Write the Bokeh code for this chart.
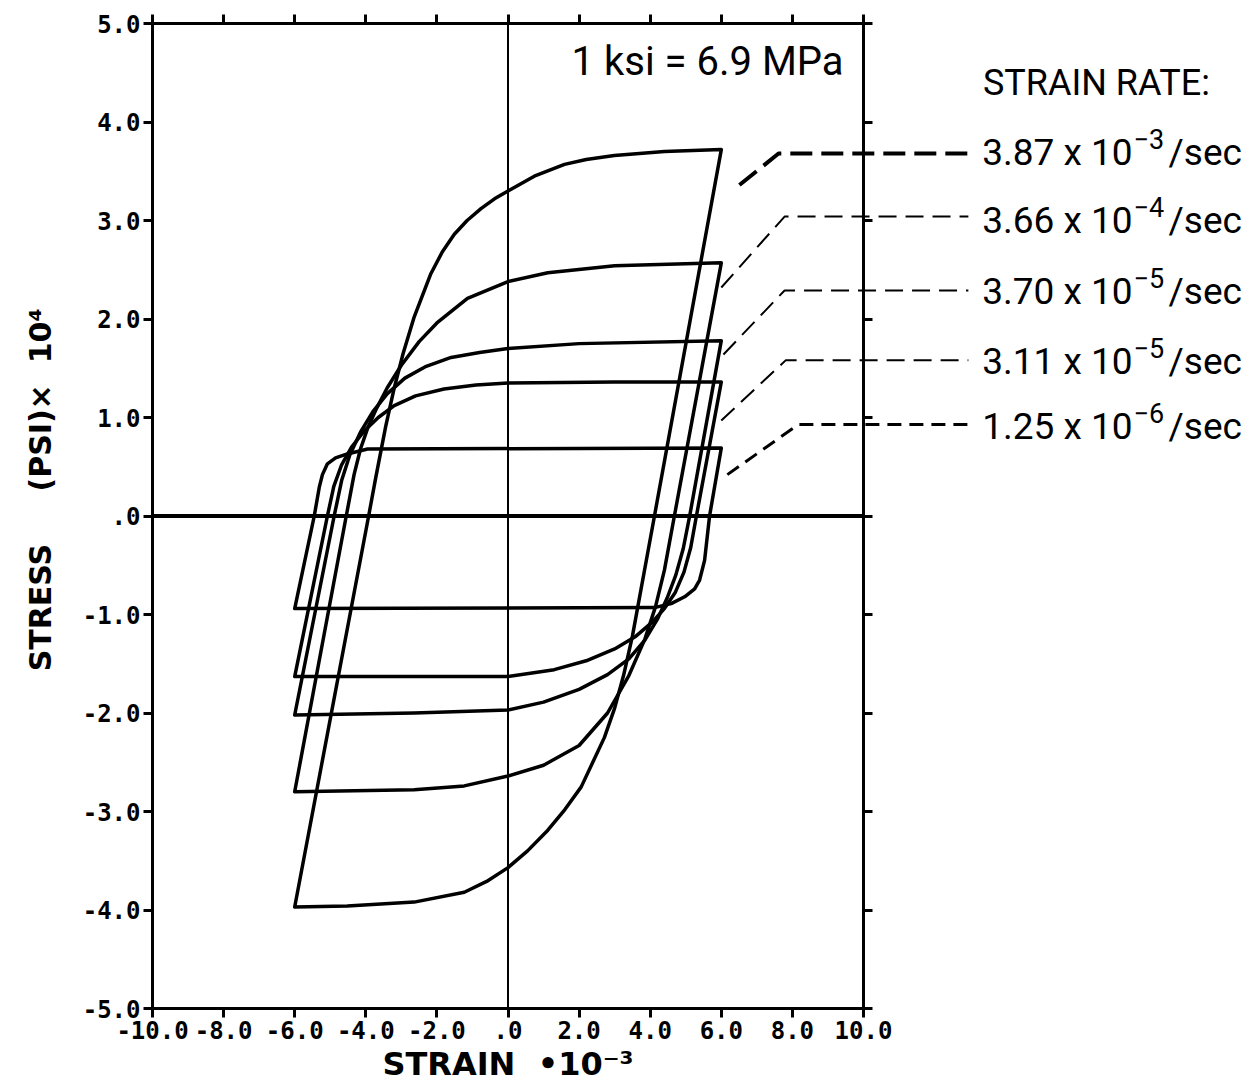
from bokeh.plotting import figure
from bokeh.layouts import row
from bokeh.models import Range1d, FixedTicker, LinearAxis, Span, Label
from bokeh.embed import file_html
from bokeh.resources import INLINE

NB = "\u00a0"

# ---------------- data (strain x10^-3, stress psi x10^4) ----------------
x_ticks = [-10, -8, -6, -4, -2, 0, 2, 4, 6, 8, 10]
x_tick_labels = ["-10.0", "-8.0", "-6.0", "-4.0", "-2.0", ".0", "2.0", "4.0", "6.0", "8.0", "10.0"]
y_ticks = [-5, -4, -3, -2, -1, 0, 1, 2, 3, 4, 5]
y_tick_labels = ["-5.0", "-4.0", "-3.0", "-2.0", "-1.0", ".0", "1.0", "2.0", "3.0", "4.0", "5.0"]

rates = ["3.87 x 10", "3.66 x 10", "3.70 x 10", "3.11 x 10", "1.25 x 10"]
rate_exp = ["\u22123", "\u22124", "\u22125", "\u22125", "\u22126"]

# loop A : 3.87e-3 /sec
a_up_x = [-6.0, -3.92, -3.72, -3.44, -3.20, -2.95, -2.64, -2.17, -1.85, -1.51, -1.15, -0.76, -0.38, 0.0, 0.74, 1.59, 2.20, 2.99, 4.40, 6.0]
a_up_y = [-3.97, 0.0, 0.39, 0.91, 1.30, 1.65, 2.02, 2.46, 2.68, 2.86, 3.00, 3.12, 3.22, 3.30, 3.45, 3.57, 3.62, 3.66, 3.70, 3.72]
a_dn_x = [6.0, 4.12, 3.50, 3.25, 3.00, 2.71, 2.06, 1.60, 1.12, 0.55, 0.0, -0.60, -1.23, -2.64, -4.52, -6.0]
a_dn_y = [3.72, 0.0, -1.22, -1.62, -1.95, -2.25, -2.75, -2.98, -3.19, -3.40, -3.57, -3.71, -3.82, -3.92, -3.96, -3.97]

# loop B : 3.66e-4 /sec
b_up_x = [-6.0, -4.55, -4.33, -4.15, -3.95, -3.70, -3.40, -3.00, -2.50, -2.00, -1.14, 0.0, 1.12, 3.0, 6.0]
b_up_y = [-2.80, 0.0, 0.42, 0.68, 0.89, 1.09, 1.30, 1.53, 1.77, 1.96, 2.21, 2.38, 2.47, 2.54, 2.57]
b_dn_x = [6.0, 4.68, 4.40, 4.15, 3.85, 3.40, 2.80, 2.00, 1.00, 0.0, -1.23, -2.64, -6.0]
b_dn_y = [2.57, 0.0, -0.55, -0.92, -1.25, -1.62, -2.00, -2.33, -2.53, -2.64, -2.74, -2.78, -2.80]

# loop C : 3.70e-5 /sec
c_up_x = [-6.0, -4.89, -4.68, -4.45, -4.15, -3.80, -3.40, -2.90, -2.30, -1.60, -0.80, 0.0, 2.0, 6.0]
c_up_y = [-2.02, 0.0, 0.36, 0.62, 0.85, 1.06, 1.24, 1.40, 1.52, 1.61, 1.66, 1.70, 1.75, 1.78]
c_dn_x = [6.0, 5.11, 4.93, 4.72, 4.48, 4.20, 3.85, 3.40, 2.80, 2.00, 1.00, 0.0, -2.64, -6.0]
c_dn_y = [1.78, 0.0, -0.33, -0.60, -0.83, -1.05, -1.26, -1.45, -1.61, -1.76, -1.89, -1.97, -2.00, -2.02]

# loop D : 3.11e-5 /sec
d_up_x = [-6.0, -5.08, -4.90, -4.68, -4.40, -4.05, -3.65, -3.20, -2.60, -1.80, -0.90, 0.0, 3.0, 6.0]
d_up_y = [-1.63, 0.0, 0.30, 0.52, 0.70, 0.86, 1.00, 1.12, 1.22, 1.29, 1.33, 1.35, 1.36, 1.36]
d_dn_x = [6.0, 5.30, 5.14, 4.95, 4.70, 4.40, 4.05, 3.60, 3.00, 2.20, 1.30, 0.0, -6.0]
d_dn_y = [1.36, 0.0, -0.32, -0.57, -0.78, -0.94, -1.08, -1.22, -1.35, -1.47, -1.56, -1.63, -1.63]

# loop E : 1.25e-6 /sec
e_up_x = [-6.0, -5.45, -5.31, -5.22, -5.08, -4.85, -4.52, -3.95, 6.0]
e_up_y = [-0.94, 0.0, 0.29, 0.42, 0.53, 0.59, 0.63, 0.68, 0.69]
e_dn_x = [6.0, 5.67, 5.53, 5.39, 5.25, 4.97, 4.59, 4.12, -6.0]
e_dn_y = [0.69, 0.0, -0.45, -0.65, -0.74, -0.82, -0.89, -0.93, -0.94]

loops = [
    (a_up_x, a_up_y, a_dn_x, a_dn_y),
    (b_up_x, b_up_y, b_dn_x, b_dn_y),
    (c_up_x, c_up_y, c_dn_x, c_dn_y),
    (d_up_x, d_up_y, d_dn_x, d_dn_y),
    (e_up_x, e_up_y, e_dn_x, e_dn_y),
]

# ---------------- layout constants ----------------
FRAME_W, FRAME_H = 711, 985
LEFT, RIGHT_B, TOP, BOTTOM = 152, 34, 23, 81
TOTAL_W = 1251
PX_PER_UNIT = FRAME_W / 20.0
SIDE_W = TOTAL_W - LEFT - FRAME_W      # side panel starts exactly at the right border

# ---------------- main figure ----------------
p = figure(frame_width=FRAME_W, frame_height=FRAME_H,
           x_range=Range1d(-10, 10), y_range=Range1d(-5, 5),
           output_backend="svg", toolbar_location=None,
           min_border_left=LEFT, min_border_right=RIGHT_B,
           min_border_top=TOP, min_border_bottom=BOTTOM)
p.grid.visible = False
p.outline_line_color = None
p.background_fill_color = "white"
p.border_fill_color = "white"

top_ax = LinearAxis()
right_ax = LinearAxis()
p.add_layout(top_ax, "above")
p.add_layout(right_ax, "right")

def style_axis(ax, ticks, labels, show_labels):
    ax.ticker = FixedTicker(ticks=ticks)
    ax.axis_line_width = 3
    ax.axis_line_color = "black"
    ax.major_tick_line_width = 3
    ax.major_tick_line_color = "black"
    ax.major_tick_in = 0
    ax.major_tick_out = 9
    ax.minor_tick_line_color = None
    if show_labels:
        ax.major_label_overrides = {t: l for t, l in zip(ticks, labels)}
        ax.major_label_text_font = "DejaVu Sans Mono"
        ax.major_label_text_font_style = "bold"
        ax.major_label_text_font_size = "24px"
        ax.major_label_text_color = "black"
        ax.major_label_standoff = 3
    else:
        ax.major_label_overrides = {t: "" for t in ticks}
        ax.major_label_text_font_size = "1px"
        ax.major_label_text_color = None
        ax.major_label_standoff = 0

style_axis(p.below[0], x_ticks, x_tick_labels, True)
style_axis(p.left[0], y_ticks, y_tick_labels, True)
style_axis(top_ax, x_ticks, x_tick_labels, False)
style_axis(right_ax, y_ticks, y_tick_labels, False)

xb = p.below[0]
xb.axis_label = "STRAIN" + NB * 2 + "\u202210\u207b\u00b3"
xb.axis_label_text_font = "DejaVu Sans"
xb.axis_label_text_font_style = "bold"
xb.axis_label_text_font_size = "32px"
xb.axis_label_text_color = "black"
xb.axis_label_standoff = 3

yl = p.left[0]
yl.axis_label = NB * 5 + "STRESS" + NB * 5 + "(PSI)\u00d7" + NB * 2 + "10\u2074"
yl.axis_label_text_font = "DejaVu Sans"
yl.axis_label_text_font_style = "bold"
yl.axis_label_text_font_size = "30px"
yl.axis_label_text_color = "black"
yl.axis_label_standoff = 22

# zero lines
p.add_layout(Span(location=0, dimension="width", line_color="black", line_width=4))
p.add_layout(Span(location=0, dimension="height", line_color="black", line_width=2))

# hysteresis loops
for ux, uy, dx, dy in loops:
    p.line(ux + dx[1:], uy + dy[1:], line_color="black", line_width=3.5,
           line_join="round", line_cap="round")

LEG_FONT = "Roboto"
p.add_layout(Label(x=9.44, y=4.61, text="1 ksi = 6.9 MPa", text_align="right",
                   text_baseline="middle", text_font=LEG_FONT, text_font_size="40px",
                   text_color="black"))

# ---------------- side panel (legend), transparent, overlapping the right border ----------------
p2 = figure(frame_width=SIDE_W, frame_height=FRAME_H,
            x_range=Range1d(10, 10 + SIDE_W / PX_PER_UNIT), y_range=Range1d(-5, 5),
            output_backend="svg", toolbar_location=None,
            x_axis_location=None, y_axis_location=None,
            min_border_left=0, min_border_right=0,
            min_border_top=TOP, min_border_bottom=BOTTOM,
            margin=(0, 0, 0, -RIGHT_B))
p2.grid.visible = False
p2.outline_line_color = None
p2.background_fill_color = None
p2.border_fill_color = None

p2.add_layout(Label(x=13.36, y=4.40, text="STRAIN RATE:", text_align="left",
                    text_baseline="middle", text_font=LEG_FONT, text_font_size="36px",
                    text_color="black"))

lead_start = [(6.51, 3.36), (6.0, 2.32), (6.06, 1.64), (6.0, 0.97), (6.17, 0.42)]
lead_knee = [(7.61, 3.68), (7.78, 3.04), (7.78, 2.29), (7.81, 1.58), (8.17, 0.93)]
lead_end_x = 12.95
text_y = [3.69, 3.00, 2.28, 1.57, 0.91]
dash_styles = [("22 9", 4), ("18 9", 2), ("18 9", 2), ("18 9", 2), ("14 8", 3)]

for i in range(5):
    (sx, sy), (kx, ky) = lead_start[i], lead_knee[i]
    dash, lw = dash_styles[i]
    for fig in (p, p2):
        fig.line([sx, kx, lead_end_x], [sy, ky, ky], line_dash=dash, line_width=lw,
                 line_color="black")
    p2.add_layout(Label(x=17.57, y=text_y[i], text=rates[i], text_align="right",
                        text_baseline="middle", text_font=LEG_FONT, text_font_size="37px",
                        text_color="black"))
    p2.add_layout(Label(x=17.60, y=text_y[i] + 0.14, text=rate_exp[i], text_align="left",
                        text_baseline="middle", text_font=LEG_FONT, text_font_size="27px",
                        text_color="black"))
    p2.add_layout(Label(x=18.58, y=text_y[i], text="/sec", text_align="left",
                        text_baseline="middle", text_font=LEG_FONT, text_font_size="37px",
                        text_color="black"))

layout = row(p, p2)
open("out.html", "w").write(file_html(layout, INLINE))
